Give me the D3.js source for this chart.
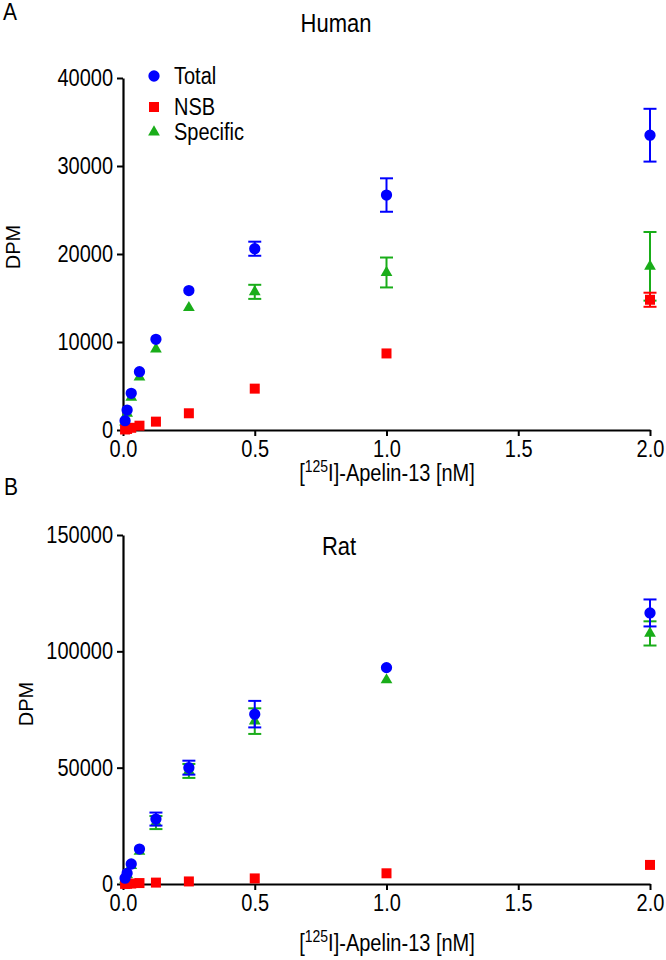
<!DOCTYPE html>
<html><head><meta charset="utf-8">
<script src="https://cdn.jsdelivr.net/npm/d3@7"></script>
<style>
html,body{margin:0;padding:0;background:#fff;}
text{font-family:"Liberation Sans",Arial,sans-serif;fill:#000;}
</style></head>
<body>
<svg id="chart" width="666" height="960"></svg>
<script>
// ---- data ----
const conc = [0.0078125, 0.015625, 0.03125, 0.0625, 0.125, 0.25, 0.5, 1, 2];
const xTicks = [0, 0.5, 1.0, 1.5, 2.0];
const seriesNames = ["Total", "NSB", "Specific"];

const humanTotal       = [1060, 2270, 4170, 6630, 10300, 15850, 20600, 26700, 33500];
const humanTotalSem    = [100, 150, 200, 250, 300, 300, 800, 1900, 3000];
const humanNSB         = [60, 120, 250, 490, 950, 1900, 4700, 8700, 14800];
const humanNSBSem      = [20, 20, 30, 50, 80, 100, 200, 300, 800];
const humanSpecific    = [900, 1900, 3700, 6000, 9200, 13900, 15700, 17900, 18600];
const humanSpecificSem = [100, 150, 200, 250, 300, 300, 800, 1700, 3900];
const humanYTicks      = [0, 10000, 20000, 30000, 40000];

const ratTotal       = [2500, 4600, 8600, 15000, 27900, 50000, 73000, 93000, 116500];
const ratTotalSem    = [300, 400, 500, 800, 2800, 3000, 5700, 800, 5800];
const ratNSB         = [50, 100, 200, 400, 600, 1100, 2400, 4600, 8200];
const ratNSBSem      = [20, 20, 30, 50, 80, 100, 200, 300, 400];
const ratSpecific    = [2000, 4000, 7900, 14000, 26400, 48600, 70000, 87700, 107700];
const ratSpecificSem = [300, 400, 500, 800, 2800, 3000, 5500, 800, 5200];
const ratYTicks      = [0, 50000, 100000, 150000];

// ---- styling ----
const colors = {Total: "#0000ff", NSB: "#ff0000", Specific: "#19ad19"};
const symbols = {Total: d3.symbolCircle, NSB: d3.symbolSquare, Specific: d3.symbolTriangle};
const sizes = {Total: 100, NSB: 100, Specific: 60};
const SY = 1.15; // vertical stretch of glyphs in the reference

const svg = d3.select("#chart");

function addText(x, y, size, anchor) {
  return svg.append("g").attr("transform", `translate(${x},${y}) scale(1,${SY})`)
    .append("text").attr("text-anchor", anchor).style("font-size", size + "px");
}

function panel(opts) {
  const g = svg.append("g");
  const x = d3.scaleLinear().domain([0, 2]).range([123, 650]);
  const y = d3.scaleLinear().domain([0, opts.yMax]).range([opts.y0, opts.yTop]);

  const xAxis = d3.axisBottom(x).tickValues(xTicks).tickFormat(d3.format(".1f"))
    .tickSize(6).tickSizeOuter(0).tickPadding(3);
  const yAxis = d3.axisLeft(y).tickValues(opts.yTicks).tickFormat(d => d)
    .tickSize(6).tickSizeOuter(0).tickPadding(4);

  const gx = g.append("g").attr("transform", `translate(0,${opts.y0})`).call(xAxis);
  const gy = g.append("g").attr("transform", `translate(123,0)`).call(yAxis);
  [gx, gy].forEach(a => {
    a.select(".domain").attr("stroke", "#000").attr("stroke-width", 2.2);
    a.selectAll(".tick line").attr("stroke", "#000").attr("stroke-width", 2);
    a.selectAll(".tick text").style("font-family", '"Liberation Sans",Arial,sans-serif')
      .style("font-size", "20px").attr("fill", "#000")
      .attr("transform", `scale(1,${SY})`);
  });

  const data = opts.series;
  const order = ["Specific", "NSB", "Total"];
  order.forEach(name => {
    const s = data[name];
    const col = colors[name];
    const eg = g.append("g");
    conc.forEach((c, i) => {
      const cx = x(c), v = s.v[i], e = s.e[i];
      const yt = y(v + e), yb = y(v - e);
      if (yb - yt > 10) {
        eg.append("line").attr("x1", cx).attr("x2", cx).attr("y1", yt).attr("y2", yb)
          .attr("stroke", col).attr("stroke-width", 2);
        [yt, yb].forEach(yy => eg.append("line").attr("x1", cx - 6.5).attr("x2", cx + 6.5)
          .attr("y1", yy).attr("y2", yy).attr("stroke", col).attr("stroke-width", 2));
      }
    });
    g.append("g").selectAll("path").data(conc).join("path")
      .attr("d", d3.symbol().type(symbols[name]).size(sizes[name]))
      .attr("transform", (c, i) => `translate(${x(c)},${y(s.v[i])})`)
      .attr("fill", col);
  });

  addText(opts.letterX, opts.letterY, 21, "start").text(opts.letter);
  addText(opts.titleX, opts.titleY, 22, "middle").text(opts.title);
  svg.append("text").attr("transform", `translate(${opts.yLabX},${opts.yLabY}) rotate(-90)`)
    .attr("text-anchor", "middle").style("font-size", "20px").text("DPM");
  const xl = addText(387, opts.xLabY, 20, "middle");
  xl.append("tspan").text("[");
  xl.append("tspan").attr("dy", -8).style("font-size", "14px").text("125");
  xl.append("tspan").attr("dy", 8).text("I]-Apelin-13 [nM]");
}

panel({
  yMax: 40000, y0: 430, yTop: 78, yTicks: humanYTicks,
  series: {
    Total: {v: humanTotal, e: humanTotalSem},
    NSB: {v: humanNSB, e: humanNSBSem},
    Specific: {v: humanSpecific, e: humanSpecificSem}
  },
  letter: "A", letterX: 3, letterY: 20,
  title: "Human", titleX: 336, titleY: 32,
  yLabX: 20, yLabY: 247, xLabY: 481
});

panel({
  yMax: 150000, y0: 884, yTop: 535, yTicks: ratYTicks,
  series: {
    Total: {v: ratTotal, e: ratTotalSem},
    NSB: {v: ratNSB, e: ratNSBSem},
    Specific: {v: ratSpecific, e: ratSpecificSem}
  },
  letter: "B", letterX: 4, letterY: 495,
  title: "Rat", titleX: 339, titleY: 555,
  yLabX: 33, yLabY: 704, xLabY: 951
});

// legend (panel A)
seriesNames.forEach((name, i) => {
  const yy = [76, 107, 132][i];
  svg.append("path").attr("d", d3.symbol().type(symbols[name]).size(sizes[name])())
    .attr("transform", `translate(154,${yy})`).attr("fill", colors[name]);
  addText(174, yy, 20, "start").attr("dy", "0.35em").text(name);
});
</script>
</body></html>
